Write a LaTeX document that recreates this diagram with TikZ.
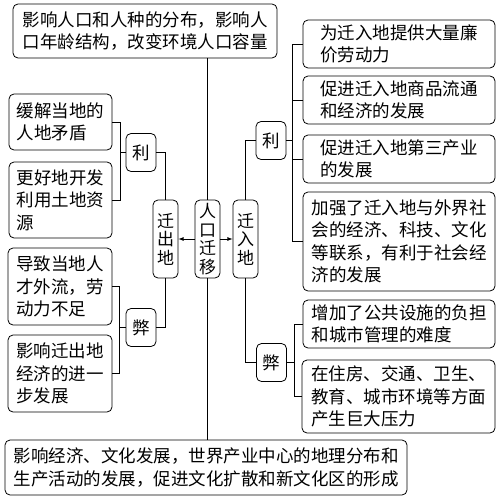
\documentclass[tikz,border=0pt]{standalone}
\usepackage{fontspec}
\setmainfont{Noto Sans CJK SC}
\usepackage{tikz}
\usetikzlibrary{arrows, calc, positioning}

\begin{document}
\begin{tikzpicture}[x=1pt,y=-1pt,line width=0.8pt,
item/.style={draw,rounded corners=5pt,align=left,inner sep=2pt,font=\fontsize{17.5}{22.5}\selectfont},
itemv/.style={item,align=center,minimum width=25pt,minimum height=78pt,font=\fontsize{17}{18.5}\selectfont},
itemk/.style={item,align=center,minimum width=30pt,minimum height=38pt}]
 \useasboundingbox (0,0) rectangle (502,500);
 % centre
 \node[itemv] (mig) at (207.5,239) {人\\口\\迁\\移};
 \node[itemv] (out) at (165.5,239) {迁\\出\\地};
 \node[itemv] (in) at (245.5,239) {迁\\入\\地};
 \node[item,minimum width=264pt,minimum height=54pt] (top) at (145,31)
   {影响人口和人种的分布，影响人\\口年龄结构，改变环境人口容量};
 \node[item,minimum width=402pt,minimum height=55pt] (bot) at (206,467.5)
   {影响经济、文化发展，世界产业中心的地理分布和\\生产活动的发展，促进文化扩散和新文化区的形成};
 \draw (mig.north) -- (mig.north |- top.south);
 \draw (mig.south) -- (mig.south |- bot.north);
 \draw[-latex] (mig.west) -- (out.east);
 \draw[-latex] (mig.east) -- (in.east -| in.west);
 % left side
 \node[itemk] (Lli) at (141,152.5) {利};
 \node[itemk] (Lbi) at (141,327.5) {弊};
 \node[item,minimum width=103pt,minimum height=56pt] (L1) at (60.5,122) {缓解当地的\\人地矛盾};
 \node[item,minimum width=103pt,minimum height=76pt] (L2) at (60.5,200) {更好地开发\\利用土地资\\源};
 \node[item,minimum width=104pt,minimum height=77pt] (L3) at (60,286.5) {导致当地人\\才外流，劳\\动力不足};
 \node[item,minimum width=104pt,minimum height=77pt] (L4) at (60,373.5) {影响迁出地\\经济的进一\\步发展};
 \draw (out.north) |- (Lli.east);
 \draw (out.south) |- (Lbi.east);
 \draw (L1.east) -- ++(8,0) |- (L2.east);
 \draw (L3.east) -- ++(7,0) |- (L4.east);
 \draw (Lli.west) -- ($(L1.east|-Lli.west)+(8,0)$);
 \draw (Lbi.west) -- ($(L3.east|-Lbi.west)+(7,0)$);
 % right side
 \node[itemk] (Rli) at (271,140.5) {利};
 \node[itemk] (Rbi) at (271.5,362.5) {弊};
 \node[item,minimum width=192pt,minimum height=48pt] (R1) at (399,44) {为迁入地提供大量廉\\价劳动力};
 \node[item,minimum width=192pt,minimum height=48pt] (R2) at (399,100) {促进迁入地商品流通\\和经济的发展};
 \node[item,minimum width=192pt,minimum height=48pt] (R3) at (399,159) {促进迁入地第三产业\\的发展};
 \node[item,minimum width=192pt,minimum height=99pt] (R4) at (399,241.5)
   {加强了迁入地与外界社\\会的经济、科技、文化\\等联系，有利于社会经\\济的发展};
 \node[item,minimum width=192pt,minimum height=48pt] (R5) at (399,324) {增加了公共设施的负担\\和城市管理的难度};
 \node[item,minimum width=193pt,minimum height=73pt] (R6) at (398.5,396.5)
   {在住房、交通、卫生、\\教育、城市环境等方面\\产生巨大压力};
 \draw (in.north) |- (Rli.west);
 \draw (in.south) |- (Rbi.west);
 \draw (R1.west) -- ++(-10,0) |- (R4.west);
 \foreach \X in {R2,R3}
  \draw (\X.west) -- ++(-10,0);
 \draw (R5.west) -- ++(-8,0) |- (R6.west);
 \draw (Rli.east) -- ($(R1.west|-Rli.east)+(-10,0)$);
 \draw (Rbi.east) -- ($(R5.west|-Rbi.east)+(-8,0)$);
\end{tikzpicture}
\end{document}
